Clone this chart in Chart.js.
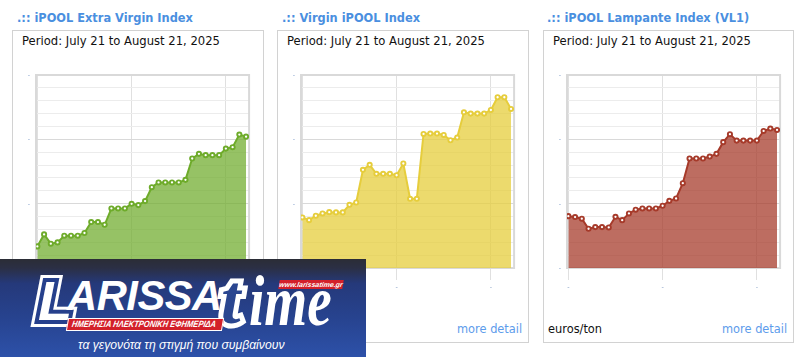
<!DOCTYPE html>
<html><head><meta charset="utf-8">
<script src="https://cdn.jsdelivr.net/npm/chart.js@4.4.1/dist/chart.umd.min.js"></script>
<style>
body{margin:0;width:812px;height:357px;background:#fff;position:relative;overflow:hidden;font-family:'DejaVu Sans',Verdana,sans-serif;}
.title{position:absolute;top:11px;font-weight:bold;font-size:11.4px;color:#4a8fe0;white-space:nowrap;line-height:14px}
.box{position:absolute;top:30px;height:313px;border:1px solid #d2d2d2;box-sizing:border-box}
.period{position:absolute;top:34px;font-size:11.6px;color:#111;white-space:nowrap;line-height:14px}
.more{position:absolute;top:322px;font-size:11.4px;color:#5d9ceb;white-space:nowrap;line-height:14px}
.unit{position:absolute;top:322px;font-size:11.4px;color:#111;white-space:nowrap;line-height:14px}
.cw{position:absolute;top:60px;width:233px;height:234px}
#logo{position:absolute;left:0;top:259px;width:366px;height:98px;overflow:hidden;z-index:10;
 background:linear-gradient(180deg,#2b2d36 0%,#2b2f44 9%,#25397a 25%,#27438f 60%,#2d51a9 100%);}
#logo div{position:absolute;white-space:nowrap}
.Lg{left:38px;top:13.6px;font-family:'Liberation Sans',Arial,sans-serif;font-weight:bold;font-style:italic;font-size:56px;line-height:56px}
.L1{color:#fff;-webkit-text-stroke:14px #fff}
.L2{color:#26408c;-webkit-text-stroke:8px #26408c}
.L3{color:#fff}
.brand{left:67px;top:14.6px;font-family:'Liberation Sans',Arial,sans-serif;font-weight:bold;font-style:italic;font-size:43px;line-height:43px;color:#fff;letter-spacing:-0.5px;transform:scaleX(0.97);transform-origin:0 50%}
.tg{left:221px;top:6.4px;font-family:'Liberation Serif',serif;font-weight:bold;font-style:italic;font-size:70px;line-height:70px}
.t1{color:#fff;-webkit-text-stroke:10px #fff}
.t2{color:#2a4690}
.ime{left:249px;top:15.75px;font-family:'Liberation Serif',serif;font-weight:bold;font-style:italic;font-size:60px;line-height:60px;color:#fff;transform:scale(0.92,1.2);transform-origin:0 50.25px}
.url{left:279px;top:21px;width:64px;height:9px;background:#d3202a;color:#fff;font-family:'Liberation Sans',Arial,sans-serif;font-weight:bold;font-style:italic;font-size:7px;line-height:9px;text-align:center;transform:skewX(-10deg)}
.daily{left:67px;top:58.5px;width:154px;height:11px;background:#d3202a;border:1px solid #fff;color:#fff;font-family:'Liberation Sans',Arial,sans-serif;font-weight:bold;font-style:italic;font-size:9px;line-height:11px;transform:skewX(-10deg)}
.daily span{display:inline-block;transform:scaleX(0.84);transform-origin:0 50%;margin-left:4px}
.tag{left:78px;top:78px;color:#fff;font-family:'Liberation Sans',Arial,sans-serif;font-style:italic;font-size:12.2px;line-height:16px}
</style></head>
<body>
<div class="title" style="left:17px">.:: iPOOL Extra Virgin Index</div>
<div class="title" style="left:282px">.:: Virgin iPOOL Index</div>
<div class="title" style="left:547px">.:: iPOOL Lampante Index (VL1)</div>

<div class="box" style="left:12px;width:252px"></div>
<div class="box" style="left:277px;width:252px"></div>
<div class="box" style="left:543px;width:251px"></div>

<div class="period" style="left:22px">Period: July 21 to August 21, 2025</div>
<div class="period" style="left:287px">Period: July 21 to August 21, 2025</div>
<div class="period" style="left:553px">Period: July 21 to August 21, 2025</div>

<div class="more" style="left:457px">more detail</div>
<div class="unit" style="left:548px">euros/ton</div>
<div class="more" style="left:722px">more detail</div>

<div class="cw" style="left:22px"><canvas id="c1" width="233" height="234"></canvas></div>
<div class="cw" style="left:287px"><canvas id="c2" width="233" height="234"></canvas></div>
<div class="cw" style="left:553px"><canvas id="c3" width="233" height="234"></canvas></div>

<div id="logo">
  <div class="Lg L1">L</div><div class="Lg L2">L</div><div class="Lg L3">L</div>
  <div class="brand">ARISSA</div>
  <div class="tg t1">t</div><div class="tg t2">t</div>
  <div class="ime">ime</div>
  <div class="url">www.larissatime.gr</div>
  <div class="daily"><span>ΗΜΕΡΗΣΙΑ ΗΛΕΚΤΡΟΝΙΚΗ ΕΦΗΜΕΡΙΔΑ</span></div>
  <div class="tag">τα γεγονότα τη στιγμή που συμβαίνουν</div>
</div>

<script>
const dates = ['Jul 21','Jul 22','Jul 23','Jul 24','Jul 25','Jul 26','Jul 27','Jul 28','Jul 29','Jul 30','Jul 31',
  'Aug 1','Aug 2','Aug 3','Aug 4','Aug 5','Aug 6','Aug 7','Aug 8','Aug 9','Aug 10','Aug 11','Aug 12','Aug 13',
  'Aug 14','Aug 15','Aug 16','Aug 17','Aug 18','Aug 19','Aug 20','Aug 21'];
const xTickLabels = ['Jul 21','Aug 4','Aug 18'];
const yMajorTicks = [0,5,10,15];

const extraVirgin = [1.68,2.61,1.89,1.99,2.51,2.51,2.51,2.72,3.57,3.57,3.36,4.63,4.63,4.63,4.99,4.89,5.20,6.28,6.65,6.65,6.65,6.65,6.85,8.51,8.87,8.77,8.77,8.77,9.28,9.39,10.37,10.21];
const virgin = [3.93,3.72,4.06,4.24,4.34,4.32,4.32,4.91,5.09,7.63,8.02,7.32,7.32,7.32,7.21,8.12,5.38,5.38,10.42,10.45,10.45,10.34,9.93,10.14,12.10,12.00,12.00,12.00,12.28,13.27,13.27,12.36];
const lampante = [4.03,3.96,3.83,3.05,3.18,3.18,3.15,3.98,3.72,4.24,4.53,4.63,4.63,4.63,4.84,5.22,5.40,6.59,8.51,8.51,8.51,8.66,8.87,9.78,10.40,9.90,9.90,9.90,9.90,10.65,10.84,10.73];

const frame = {
  id:'frame',
  beforeDatasetsDraw(chart){
    const a = chart.chartArea, ctx = chart.ctx;
    ctx.save(); ctx.strokeStyle='#d9d9d9'; ctx.lineWidth=2;
    ctx.strokeRect(a.left, a.top, a.right-a.left, a.bottom-a.top);
    ctx.restore();
  }
};

function makeChart(id, vals, line, fill){
  const xTickIdx = xTickLabels.map(l => dates.indexOf(l));
  return new Chart(document.getElementById(id), {
    type:'line',
    data:{ datasets:[{ data: vals.map((v,i)=>({x:i,y:v})), borderColor:line, backgroundColor:fill, fill:'start',
      borderWidth:2, pointRadius:2.1, pointBorderWidth:1.9, pointBackgroundColor:'#fff', pointBorderColor:line, tension:0 }]},
    options:{
      responsive:false, animation:false, events:[],
      layout:{padding:{top:15,right:4,left:0,bottom:0}},
      plugins:{legend:{display:false}, tooltip:{enabled:false}},
      scales:{
        x:{type:'linear', min:-0.2, max:31.45,
          afterBuildTicks:s=>{ s.ticks = xTickIdx.map(v=>({value:v})); },
          afterFit:s=>{ s.height = 26; },
          grid:{color:'#e0e0e0', lineWidth:1, tickLength:12, drawOnChartArea:true},
          border:{display:false},
          ticks:{callback:()=>'-', font:{size:7}, color:'#8aa4c8', padding:3, autoSkip:false, maxRotation:0}},
        y:{min:0, max:15,
          ticks:{stepSize:1, autoSkip:false, callback:v=> yMajorTicks.includes(v)?'-':'', font:{size:7}, color:'#7d9cc8', padding:6},
          afterFit:s=>{ s.width = 14; },
          grid:{drawTicks:false, color:c=> (c.tick && yMajorTicks.includes(c.tick.value)) ? '#d9d9d9':'#ececec', lineWidth:1},
          border:{display:false}}
      }
    },
    plugins:[frame]
  });
}
makeChart('c1', extraVirgin, '#6eab2a', 'rgba(110,171,42,0.72)');
makeChart('c2', virgin, '#e6cd3c', 'rgba(230,205,60,0.75)');
makeChart('c3', lampante, '#a63a2a', 'rgba(166,58,42,0.74)');
</script>
</body></html>
